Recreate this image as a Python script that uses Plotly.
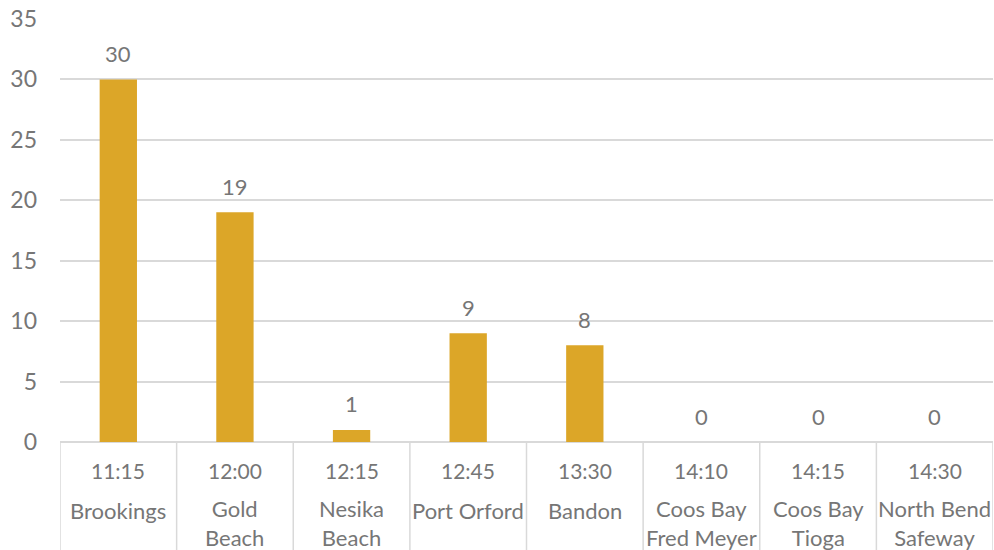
import plotly.graph_objects as go

times = ["11:15", "12:00", "12:15", "12:45", "13:30", "14:10", "14:15", "14:30"]
places = ["Brookings", "Gold<br>Beach", "Nesika<br>Beach", "Port Orford", "Bandon",
          "Coos Bay<br>Fred Meyer", "Coos Bay<br>Tioga", "North Bend<br>Safeway"]
values = [30, 19, 1, 9, 8, 0, 0, 0]

FONT = "Lato"
GRAY = "#767676"
GRID = "#d9d9d9"
idx = list(range(len(times)))

fig = go.Figure(go.Bar(
    x=idx, y=values, marker_color="#DCA628", marker_line_width=0,
    width=0.32,
))

PH = 423.0
shapes = []
for i in range(len(times) + 1):
    shapes.append(dict(type="line", xref="x", yref="paper", x0=i - 0.5, x1=i - 0.5,
                       y0=0, y1=-0.3, line=dict(color=GRID, width=1.5)))
annotations = []
for i in idx:
    annotations.append(dict(x=i, y=values[i], xref="x", yref="y", text=str(values[i]),
                            showarrow=False, yanchor="middle", yshift=26,
                            font=dict(family=FONT, size=22, color=GRAY)))
    annotations.append(dict(x=i, y=-28 / PH, xref="x", yref="paper", text=times[i],
                            showarrow=False, yanchor="middle",
                            font=dict(family=FONT, size=21, color=GRAY)))
    two = "<br>" in places[i]
    yc = (81 if two else 69) / PH
    annotations.append(dict(x=i, y=-yc, xref="x", yref="paper", text=places[i],
                            showarrow=False, yanchor="middle",
                            font=dict(family=FONT, size=22, color=GRAY)))

fig.update_layout(
    width=994, height=550, margin=dict(l=60, r=1, t=19, b=108),
    plot_bgcolor="white", paper_bgcolor="white", showlegend=False,
    shapes=shapes, annotations=annotations,
    xaxis=dict(range=[-0.5, len(times) - 0.5], showticklabels=False, showgrid=False,
               zeroline=False, showline=False, ticks=""),
    yaxis=dict(range=[0, 35], dtick=5, showgrid=True, gridcolor=GRID, gridwidth=1.5,
               zeroline=True, zerolinecolor=GRID, zerolinewidth=1.5, ticks="",
               tickfont=dict(family=FONT, size=23, color=GRAY), ticklabelstandoff=22),
)
fig.write_html("out.html")
